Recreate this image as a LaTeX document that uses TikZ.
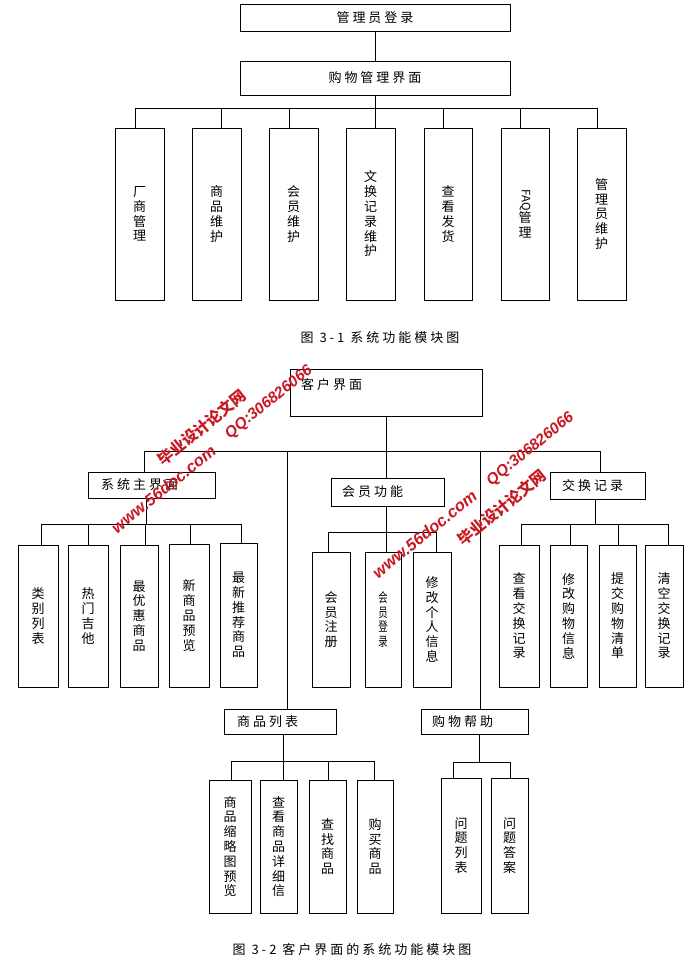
\documentclass[tikz,border=0pt]{standalone}
\usepackage{fontspec}
\usepackage{graphicx}
\setmainfont{Noto Sans CJK SC}
\newfontfamily\spacedcjk[LetterSpace=23]{Noto Sans CJK SC}
\newfontfamily\wmcjk{Noto Sans CJK SC}
\newfontfamily\wmlatin{Liberation Sans}
\newcommand\narrowch[1]{\scalebox{0.72}[1]{#1}}
\definecolor{wmred}{RGB}{200,25,35}
\tikzset{
  box/.style={draw, line width=1pt, inner sep=0pt},
  vbox/.style={box, align=center, font=\fontsize{13}{14.8}\selectfont},
  hbox/.style={box, font=\spacedcjk\fontsize{13}{15}\selectfont},
  lab/.style={inner sep=0pt, anchor=west, font=\spacedcjk\fontsize{13}{15}\selectfont},
  captext/.style={inner sep=0pt, font=\spacedcjk\fontsize{13}{15}\selectfont},
  conn/.style={line width=1pt},
  wm/.style={text=wmred, rotate=39, inner sep=0pt},
}
\begin{document}
\begin{tikzpicture}[x=1pt,y=-1pt]
\useasboundingbox[fill=white] (0,0) rectangle (699,961);

% ---------- Figure 3-1 ----------
\node[hbox, minimum width=270pt, minimum height=27pt] (A) at (375,17.5) {管理员登录};
\node[hbox, minimum width=270pt, minimum height=34pt] (B) at (375,78) {购物管理界面};
\coordinate (j0) at (375,108);

\node[vbox, minimum width=49pt, minimum height=172pt] (T1) at (139.5,214) {厂\\商\\管\\理};
\node[vbox, minimum width=49pt, minimum height=172pt] (T2) at (216.5,214) {商\\品\\维\\护};
\node[vbox, minimum width=49pt, minimum height=172pt] (T3) at (293.5,214) {会\\员\\维\\护};
\node[vbox, minimum width=49pt, minimum height=172pt] (T4) at (370.5,214) {文\\换\\记\\录\\维\\护};
\node[vbox, minimum width=48pt, minimum height=172pt] (T5) at (448,214) {查\\看\\发\\货};
\node[vbox, minimum width=48pt, minimum height=172pt] (T6) at (525,214) {\rotatebox{-90}{\fontsize{11.5}{11.5}\selectfont FAQ}\\管\\理};
\node[vbox, minimum width=49pt, minimum height=172pt] (T7) at (601.5,214) {管\\理\\员\\维\\护};

\draw[conn] (A) -- (B);
\draw[conn] (B.south) -- (j0);
\draw[conn] ([xshift=-4.5pt]T1.north) |- (j0);
\draw[conn] ([xshift=4.5pt]T2.north) |- (j0);
\draw[conn] ([xshift=-4.5pt]T3.north) |- (j0);
\draw[conn] ([xshift=4.5pt]T4.north) |- (j0);
\draw[conn] ([xshift=-5pt]T5.north) |- (j0);
\draw[conn] ([xshift=-5pt]T6.north) |- (j0);
\draw[conn] ([xshift=-4.5pt]T7.north) |- (j0);

\node[captext] (cap1) at (380,338) {图 3-1\hspace{6pt}系统功能模块图};

% ---------- Figure 3-2 ----------
\node[box, minimum width=192pt, minimum height=47pt] (K) at (386,392.5) {};
\node[lab] (tK) at (301,385) {客户界面};
\coordinate (j1) at (386,451);

\node[box, minimum width=127pt, minimum height=26pt] (H1) at (151.5,485) {};
\node[lab] (tH1) at (101,485) {系统主界面};
\node[box, minimum width=113pt, minimum height=28pt] (H2) at (387.5,492) {};
\node[lab] (tH2) at (342,492) {会员功能};
\node[box, minimum width=95pt, minimum height=27pt] (H3) at (597.5,485.5) {};
\node[lab] (tH3) at (562,485.5) {交换记录};
\node[box, minimum width=112pt, minimum height=25pt] (H4) at (280,721.5) {};
\node[lab] (tH4) at (237,721.5) {商品列表};
\node[box, minimum width=107pt, minimum height=25pt] (H5) at (474.5,721.5) {};
\node[lab] (tH5) at (432,721.5) {购物帮助};

\draw[conn] (K.south) -- (j1);
\draw[conn] ([xshift=-7.5pt]H1.north) |- (j1);
\draw[conn] ([xshift=-1.5pt]H2.north) |- (j1);
\draw[conn] ([xshift=2.5pt]H3.north) |- (j1);
\draw[conn] ([xshift=7pt]H4.north) |- (j1);
\draw[conn] ([xshift=5.5pt]H5.north) |- (j1);

% system main interface children
\coordinate (jL) at (146,524);
\node[vbox, minimum width=40pt, minimum height=142pt] (L1) at (38,616) {类\\别\\列\\表};
\node[vbox, minimum width=40pt, minimum height=142pt] (L2) at (88,616) {热\\门\\吉\\他};
\node[vbox, minimum width=38pt, minimum height=142pt] (L3) at (139,616) {最\\优\\惠\\商\\品};
\node[vbox, minimum width=40pt, minimum height=143pt] (L4) at (189,615.5) {新\\商\\品\\预\\览};
\node[vbox, minimum width=37pt, minimum height=144pt] (L5) at (238.5,615) {最\\新\\推\\荐\\商\\品};
\draw[conn] ([xshift=-5.5pt]H1.south) -- (jL);
\draw[conn] ([xshift=3pt]L1.north) |- (jL);
\draw[conn] (L2.north) |- (jL);
\draw[conn] ([xshift=6pt]L3.north) |- (jL);
\draw[conn] ([xshift=1pt]L4.north) |- (jL);
\draw[conn] ([xshift=2.5pt]L5.north) |- (jL);

% member functions children
\coordinate (jM) at (386,532);
\node[vbox, minimum width=38pt, minimum height=135pt] (M1) at (331,619.5) {会\\员\\注\\册};
\node[vbox, minimum width=36pt, minimum height=135pt] (M2) at (383,619.5) {\narrowch{会}\\\narrowch{员}\\\narrowch{登}\\\narrowch{录}};
\node[vbox, minimum width=38pt, minimum height=135pt] (M3) at (432,619.5) {修\\改\\个\\人\\信\\息};
\draw[conn] ([xshift=-1.5pt]H2.south) -- (jM);
\draw[conn] ([xshift=-3pt]M1.north) |- (jM);
\draw[conn] ([xshift=3pt]M2.north) |- (jM);
\draw[conn] ([xshift=4pt]M3.north) |- (jM);

% exchange record children
\coordinate (jR) at (595,524);
\node[vbox, minimum width=40pt, minimum height=142pt] (R1) at (519,616) {查\\看\\交\\换\\记\\录};
\node[vbox, minimum width=37pt, minimum height=142pt] (R2) at (568.5,616) {修\\改\\购\\物\\信\\息};
\node[vbox, minimum width=37pt, minimum height=142pt] (R3) at (617.5,616) {提\\交\\购\\物\\清\\单};
\node[vbox, minimum width=38pt, minimum height=142pt] (R4) at (664,616) {清\\空\\交\\换\\记\\录};
\draw[conn] ([xshift=-2.5pt]H3.south) -- (jR);
\draw[conn] ([xshift=2pt]R1.north) |- (jR);
\draw[conn] ([xshift=1.5pt]R2.north) |- (jR);
\draw[conn] ([xshift=0.5pt]R3.north) |- (jR);
\draw[conn] ([xshift=4pt]R4.north) |- (jR);

% product list children
\coordinate (jP) at (283,761);
\node[vbox, minimum width=42pt, minimum height=133pt] (P1) at (230,846.5) {商\\品\\缩\\略\\图\\预\\览};
\node[vbox, minimum width=37pt, minimum height=133pt] (P2) at (278.5,846.5) {查\\看\\商\\品\\详\\细\\信};
\node[vbox, minimum width=37pt, minimum height=133pt] (P3) at (327.5,846.5) {查\\找\\商\\品};
\node[vbox, minimum width=36pt, minimum height=133pt] (P4) at (375,846.5) {购\\买\\商\\品};
\draw[conn] ([xshift=3pt]H4.south) -- (jP);
\draw[conn] ([xshift=1pt]P1.north) |- (jP);
\draw[conn] ([xshift=4.5pt]P2.north) |- (jP);
\draw[conn] ([xshift=0.5pt]P3.north) |- (jP);
\draw[conn] ([xshift=-1pt]P4.north) |- (jP);

% shopping help children
\coordinate (jQ) at (479,762);
\node[vbox, minimum width=40pt, minimum height=135pt] (Q1) at (461,845.5) {问\\题\\列\\表};
\node[vbox, minimum width=37pt, minimum height=135pt] (Q2) at (509.5,845.5) {问\\题\\答\\案};
\draw[conn] ([xshift=4.5pt]H5.south) -- (jQ);
\draw[conn] ([xshift=-8pt]Q1.north) |- (jQ);
\draw[conn] ([xshift=0.5pt]Q2.north) |- (jQ);

\node[captext] (cap2) at (352,950) {图 3-2\hspace{6pt}客户界面的系统功能模块图};

% ---------- watermarks ----------
\node[wm, font=\wmcjk\bfseries\fontsize{15.5}{16}\selectfont] (w1) at (201.5,427.5) {毕业设计论文网};
\node[wm, font=\wmlatin\bfseries\itshape\fontsize{15.5}{16}\selectfont] (w2) at (269,402.5) {QQ:306826066};
\node[wm, font=\wmlatin\bfseries\itshape\fontsize{16.5}{17}\selectfont] (w3) at (163.5,489) {www.56doc.com};
\node[wm, font=\wmlatin\bfseries\itshape\fontsize{15.5}{16}\selectfont] (w4) at (530.5,449.5) {QQ:306826066};
\node[wm, font=\wmcjk\bfseries\fontsize{15.5}{16}\selectfont] (w5) at (502,507.5) {毕业设计论文网};
\node[wm, font=\wmlatin\bfseries\itshape\fontsize{16.5}{17}\selectfont] (w6) at (424.5,534) {www.56doc.com};
\end{tikzpicture}
\end{document}
